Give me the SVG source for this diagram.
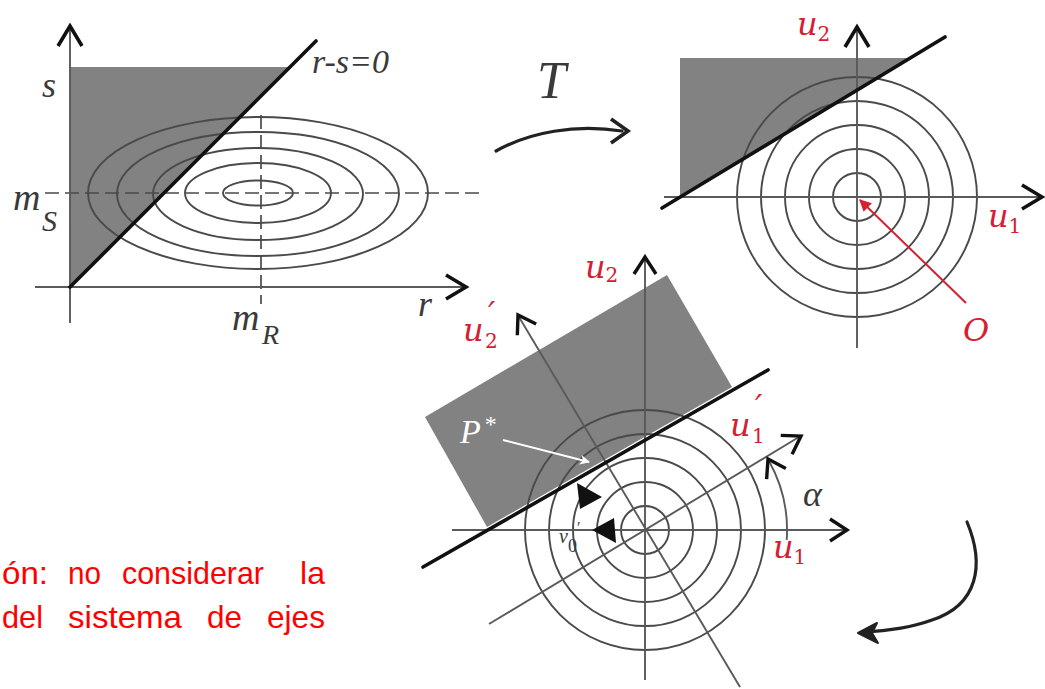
<svg xmlns="http://www.w3.org/2000/svg" xmlns:xlink="http://www.w3.org/1999/xlink" width="1045" height="689" viewBox="0 0 1045 689">
<defs>
<style>
.gray{fill:#828282}
.ring{fill:none;stroke:#4a4a4a;stroke-width:1.9}
.axis{stroke:#5a5a5a;stroke-width:1.9;fill:none}
.dash{stroke:#4a4a4a;stroke-width:1.7;stroke-dasharray:14 6;fill:none}
.thick{stroke:#111;stroke-width:3.6;stroke-linecap:round;fill:none}
.lbl{font-family:"Liberation Serif",serif;font-style:italic;fill:#3a3a3a}
.red{font-family:"DejaVu Serif","Liberation Serif",serif;font-style:italic;fill:#d42030;font-size:32px}
.sb{font-style:normal;font-size:20px}
.note{font-family:"Liberation Sans",Arial,sans-serif;font-size:32px;fill:#ff0000}
.curve{fill:none;stroke:#222;stroke-width:3.2;stroke-linecap:round}
</style>
<path id="chev" d="M-20,-12 L0,0 L-20,12" fill="none" stroke="#111" stroke-width="3.6" stroke-linejoin="miter"/>
<path id="chevs" d="M-17,-11 L0,0 L-17,11" fill="none" stroke="#111" stroke-width="3.4" stroke-linejoin="miter"/>
<marker id="redhead" viewBox="0 0 10 10" refX="9" refY="5" markerWidth="6" markerHeight="6" orient="auto" markerUnits="strokeWidth">
<path d="M0,0 L10,5 L0,10 Z" fill="#d42030"/>
</marker>
<marker id="whitehead" viewBox="0 0 10 10" refX="9" refY="5" markerWidth="5" markerHeight="5" orient="auto" markerUnits="strokeWidth">
<path d="M0,0 L10,5 L0,10 L3,5 Z" fill="#ffffff"/>
</marker>
</defs>
<rect width="1045" height="689" fill="#ffffff"/>

<g id="panel-original">
<polygon class="gray" points="70,67 290,67 70,287"/>
<line class="dash" x1="45" y1="193" x2="483" y2="193"/>
<line class="dash" x1="261" y1="115" x2="261" y2="304"/>
<ellipse class="ring" cx="258" cy="193" rx="170" ry="76"/>
<ellipse class="ring" cx="258" cy="194" rx="141" ry="62"/>
<ellipse class="ring" cx="258" cy="194" rx="105" ry="46"/>
<ellipse class="ring" cx="258" cy="193" rx="73" ry="30"/>
<ellipse class="ring" cx="258" cy="193" rx="35" ry="12.5"/>
<line class="axis" x1="70" y1="323" x2="70" y2="28"/>
<line class="axis" x1="35" y1="287" x2="464" y2="287"/>
<use xlink:href="#chev" transform="translate(70,26) rotate(-90)"/>
<use xlink:href="#chev" transform="translate(466,287)"/>
<line class="thick" x1="70" y1="287" x2="316" y2="41"/>
<text class="lbl" x="312" y="73" font-size="34">r-s=0</text>
<text class="lbl" x="42" y="97" font-size="36">s</text>
<text class="lbl" x="13" y="210" font-size="38">m</text>
<text class="lbl" x="42" y="231" font-size="30">S</text>
<text class="lbl" x="232" y="330" font-size="38">m</text>
<text class="lbl" x="262" y="344" font-size="28">R</text>
<text class="lbl" x="418" y="316" font-size="36">r</text>
</g>

<g id="panel-transformed">
<polygon class="gray" points="680,58 910,58 680,197"/>
<circle class="ring" cx="857" cy="197" r="24"/>
<circle class="ring" cx="857" cy="197" r="48"/>
<circle class="ring" cx="857" cy="197" r="72"/>
<circle class="ring" cx="857" cy="197" r="96"/>
<circle class="ring" cx="857" cy="197" r="120"/>
<line class="axis" x1="664" y1="197" x2="1040" y2="197"/>
<line class="axis" x1="857" y1="348" x2="857" y2="29"/>
<use xlink:href="#chev" transform="translate(1042,197)"/>
<use xlink:href="#chev" transform="translate(857,27) rotate(-90)"/>
<line class="thick" x1="662" y1="208" x2="945" y2="37"/>
<line x1="966" y1="303" x2="860" y2="200" stroke="#d42030" stroke-width="2" marker-end="url(#redhead)"/>
<text class="red" x="797" y="35">u<tspan class="sb" dy="6">2</tspan></text>
<text class="red" x="988" y="227">u<tspan class="sb" dy="6">1</tspan></text>
<text class="red" x="963" y="341" font-size="42px">O</text>
</g>

<g id="panel-rotated">
<polygon class="gray" points="425,417 667,275 732,387 487,527"/>
<circle class="ring" cx="645" cy="530" r="24"/>
<circle class="ring" cx="645" cy="530" r="48"/>
<circle class="ring" cx="645" cy="530" r="72"/>
<circle class="ring" cx="645" cy="530" r="96"/>
<circle class="ring" cx="645" cy="530" r="120"/>
<line class="axis" x1="452" y1="530" x2="845" y2="530"/>
<line class="axis" x1="645" y1="680" x2="645" y2="259"/>
<line class="axis" x1="489" y1="624" x2="799" y2="437"/>
<line class="axis" x1="740" y1="687" x2="519" y2="317"/>
<path class="axis" d="M786.7,539.9 A142,142 0 0 0 769,461"/>
<use xlink:href="#chevs" transform="translate(847,530)"/>
<use xlink:href="#chevs" transform="translate(645,257) rotate(-90)"/>
<use xlink:href="#chevs" transform="translate(801,436) rotate(-31)"/>
<use xlink:href="#chevs" transform="translate(518,315) rotate(-121)"/>
<use xlink:href="#chevs" transform="translate(768,459) rotate(-119)"/>
<line class="thick" x1="423" y1="567" x2="768" y2="370"/>
<polygon points="577,483 602,497 580,509" fill="#111"/>
<polygon points="614,518 592,530 616,543" fill="#111"/>
<line x1="503" y1="440" x2="589" y2="462" stroke="#ffffff" stroke-width="2" marker-end="url(#whitehead)"/>
<text x="460" y="443" font-size="34" font-family="Liberation Serif, serif" font-style="italic" fill="#ffffff">P<tspan font-size="24" font-style="normal" dx="4" dy="-11">*</tspan></text>
<text class="lbl" x="559" y="543" font-size="20">v<tspan font-size="18" font-style="normal" dy="9">0</tspan><tspan font-size="16" dx="-1" dy="-19">′</tspan></text>
<text class="red" x="585" y="278">u<tspan class="sb" dy="4">2</tspan></text>
<text class="red" x="463" y="341">u</text>
<text class="red" x="488" y="324" font-size="15px" font-style="normal">′</text>
<text class="red sb" x="485" y="348">2</text>
<text class="red" x="730" y="436">u</text>
<text class="red" x="755" y="417" font-size="15px" font-style="normal">′</text>
<text class="red sb" x="752" y="443">1</text>
<text class="red" x="773" y="558">u<tspan class="sb" dy="6">1</tspan></text>
<text class="lbl" x="803" y="506" font-size="36">α</text>
</g>

<g id="connectors">
<path class="curve" d="M496,151 C530,132 575,124 622,131"/>
<path d="M611,119 L628,131 L611,143" fill="none" stroke="#222" stroke-width="3.6"/>
<text class="lbl" x="537" y="98" font-size="52">T</text>
<path class="curve" d="M967,522 C985,565 978,605 932,620 C910,628 885,631 863,632"/>
<path d="M858,633 L877,623 L872,633 L878,643 Z" fill="#222" stroke="#222" stroke-width="2" stroke-linejoin="round"/>
</g>

<g id="note">
<text class="note" x="2" y="584" textLength="46" lengthAdjust="spacingAndGlyphs">ón:</text>
<text class="note" x="68" y="584" textLength="33" lengthAdjust="spacingAndGlyphs">no</text>
<text class="note" x="122" y="584" textLength="142" lengthAdjust="spacingAndGlyphs">considerar</text>
<text class="note" x="300" y="584" textLength="25" lengthAdjust="spacingAndGlyphs">la</text>
<text class="note" x="2" y="628" textLength="41" lengthAdjust="spacingAndGlyphs">del</text>
<text class="note" x="68" y="628" textLength="114" lengthAdjust="spacingAndGlyphs">sistema</text>
<text class="note" x="207" y="628" textLength="35" lengthAdjust="spacingAndGlyphs">de</text>
<text class="note" x="267" y="628" textLength="58" lengthAdjust="spacingAndGlyphs">ejes</text>
</g>
</svg>
